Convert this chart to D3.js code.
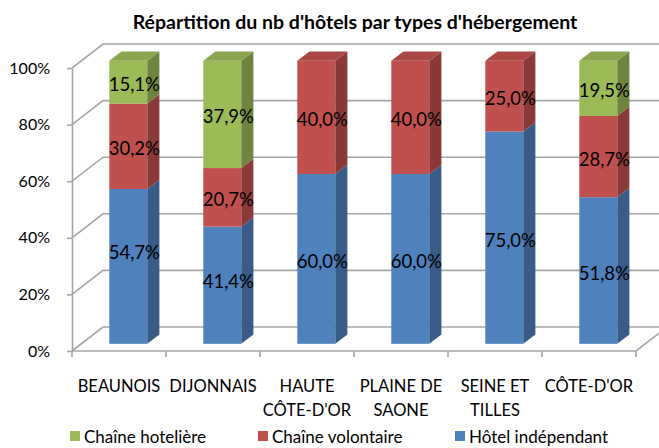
<!DOCTYPE html>
<html lang="fr">
<head>
<meta charset="UTF-8">
<title>Répartition du nb d'hôtels par types d'hébergement</title>
<style>
  body { margin: 0; background: #fff; }
  svg { display: block; font-family: Lato, "Open Sans", sans-serif; }
  .grid { fill: none; stroke: #a6a6a6; stroke-width: 1.6; }
  .axis path, .axis line { stroke: #a6a6a6; stroke-width: 1.6; }
  .axis text { font-size: 16px; fill: #000; font-family: Lato, sans-serif; }
</style>
</head>
<body>
<svg id="chart" width="659" height="448"></svg>
<script src="https://d3js.org/d3.v7.min.js"></script>
<script>
// data
const categories = [["BEAUNOIS"], ["DIJONNAIS"], ["HAUTE", "CÔTE-D'OR"], ["PLAINE DE", "SAONE"], ["SEINE ET", "TILLES"], ["CÔTE-D'OR"]];
const hotelIndependant = [54.7, 41.4, 60.0, 60.0, 75.0, 51.8];
const chaineVolontaire = [30.2, 20.7, 40.0, 40.0, 25.0, 28.7];
const chaineHoteliere = [15.1, 37.9, 0, 0, 0, 19.5];
const seriesNames = ["Hôtel indépendant", "Chaîne volontaire", "Chaîne hotelière"];
const yTicks = [0, 0.2, 0.4, 0.6, 0.8, 1];

const colors = {
  "Hôtel indépendant": "#4f81bd",
  "Chaîne volontaire": "#c0504d",
  "Chaîne hotelière": "#9bbb59"
};

const svg = d3.select("#chart");
const W = 659;

// front plane
const x = d3.scaleBand().domain(d3.range(categories.length)).range([72, 636]);
const y = d3.scaleLinear().domain([0, 1]).range([351, 68]);
// depth of the wall
const DX = 31, DY = -24;
const depth = z => [z * DX, z * DY];

// title
svg.append("text")
  .attr("x", 355).attr("y", 29)
  .attr("text-anchor", "middle")
  .style("font-weight", "bold").style("font-size", "19.5px")
  .text("Répartition du nb d'hôtels par types d'hébergement");

// gridlines on the back wall
svg.append("g").selectAll("path")
  .data(yTicks)
  .join("path")
  .attr("class", "grid")
  .attr("stroke-width", d => d === 1 ? 2.4 : 1.6)
  .attr("d", d => `M${x.range()[0]},${y(d)} L${x.range()[0] + DX},${y(d) + DY} L${W + 20},${y(d) + DY}`);

// floor front edge and right side
svg.append("path").attr("class", "grid")
  .attr("d", `M${x.range()[0]},${y(0)} L${x.range()[1]},${y(0)} L${x.range()[1] + DX},${y(0) + DY}`);

// y axis
const yAxis = d3.axisLeft(y).tickValues(yTicks).tickFormat(d3.format(".0%")).tickSize(5).tickSizeOuter(0).tickPadding(17);
svg.append("g").attr("class", "axis")
  .attr("transform", `translate(${x.range()[0]},0)`)
  .call(yAxis);

// x ticks at band edges
const edges = x.domain().map(i => x(i)).concat([x.range()[1]]);
svg.append("g").selectAll("line")
  .data(edges)
  .join("line")
  .attr("x1", d => d).attr("x2", d => d)
  .attr("y1", y(0)).attr("y2", y(0) + 6)
  .attr("stroke", "#a6a6a6").attr("stroke-width", 1.6);

// x labels
const xl = svg.append("g").style("font-size", "16.5px");
categories.forEach((lines, i) => {
  const t = xl.append("text")
    .attr("x", x(i) + x.bandwidth() / 2)
    .attr("y", 392)
    .attr("text-anchor", "middle");
  lines.forEach((l, k) => {
    t.append("tspan").attr("x", x(i) + x.bandwidth() / 2).attr("dy", k === 0 ? 0 : 24).text(l);
  });
});

// stacked 3d bars
const rows = categories.map((c, i) => ({
  "Hôtel indépendant": hotelIndependant[i] / 100,
  "Chaîne volontaire": chaineVolontaire[i] / 100,
  "Chaîne hotelière": chaineHoteliere[i] / 100
}));
const stack = d3.stack().keys(seriesNames)(rows);

const barW = 38;
const zFront = 0.3, zBack = 0.69;
const [fx, fy] = depth(zFront);
const [bx, by] = depth(zBack);
const sx = bx - fx, sy = by - fy;

const barsG = svg.append("g");
const labelsG = svg.append("g").style("font-size", "18.5px");
// small nudges where the source labels sit off-centre
const labelNudge = { "0-0": -16, "1-0": -6 };

categories.forEach((c, i) => {
  const x0 = x(i) + (x.bandwidth() - barW) / 2 + fx;
  const x1 = x0 + barW;
  let topIdx = -1;
  stack.forEach((s, k) => { if (s[i][1] - s[i][0] > 0) topIdx = k; });
  stack.forEach((s, k) => {
    const v0 = s[i][0], v1 = s[i][1];
    if (v1 - v0 <= 0) return;
    const col = d3.color(colors[s.key]);
    const yb = y(v0) + fy, yt = y(v1) + fy;
    // front face
    barsG.append("rect")
      .attr("x", x0).attr("y", yt)
      .attr("width", barW).attr("height", yb - yt)
      .attr("fill", col.formatHex());
    // side face
    barsG.append("path")
      .attr("d", `M${x1},${yb} L${x1 + sx},${yb + sy} L${x1 + sx},${yt + sy} L${x1},${yt} Z`)
      .attr("fill", col.darker(0.95).formatHex());
    // top face
    if (k === topIdx) {
      barsG.append("path")
        .attr("d", `M${x0},${yt} L${x0 + sx},${yt + sy} L${x1 + sx},${yt + sy} L${x1},${yt} Z`)
        .attr("fill", col.darker(0.35).formatHex());
    }
    const nudge = labelNudge[`${i}-${k}`] || 0;
    labelsG.append("text")
      .attr("x", (x0 + x1) / 2 + 6)
      .attr("y", (yb + yt) / 2 + 2 + nudge)
      .attr("text-anchor", "middle")
      .attr("dominant-baseline", "central")
      .text(d3.format(".1f")((v1 - v0) * 100).replace(".", ",") + "%");
  });
});

// legend
const legendX = [70, 258, 455];
const legendOrder = ["Chaîne hotelière", "Chaîne volontaire", "Hôtel indépendant"];
const lg = svg.append("g").style("font-size", "17px");
legendOrder.forEach((name, i) => {
  lg.append("rect").attr("x", legendX[i]).attr("y", 431).attr("width", 10).attr("height", 10).attr("fill", colors[name]);
  lg.append("text").attr("x", legendX[i] + 14).attr("y", 443).text(name);
});
</script>
</body>
</html>
